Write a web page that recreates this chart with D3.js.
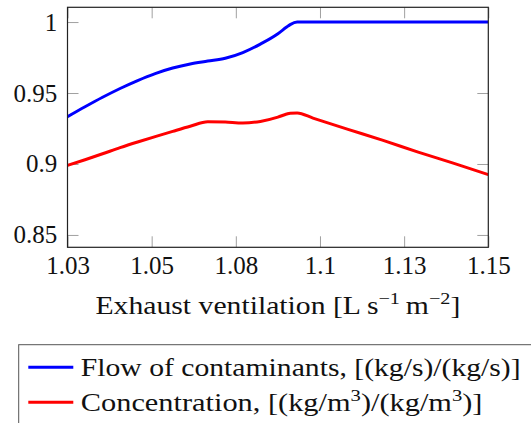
<!DOCTYPE html>
<html>
<head>
<meta charset="utf-8">
<script src="https://cdn.jsdelivr.net/npm/d3@7"></script>
</head>
<body style="margin:0">
<div id="chart"></div>
<script>
// exhaust ventilation [L s^-1 m^-2]
const xValues = [1.030, 1.035, 1.040, 1.045, 1.050, 1.055, 1.060, 1.065, 1.070, 1.075,
                 1.080, 1.085, 1.090, 1.0925, 1.0935, 1.0955, 1.100, 1.110, 1.120, 1.130, 1.140, 1.150];
// flow of contaminants, relative
const flowValues = [0.9333, 0.9403, 0.9470, 0.9532, 0.9588, 0.9637, 0.9676, 0.9705, 0.9725, 0.9745,
                    0.9785, 0.9845, 0.9918, 0.9965, 0.9982, 1.0000, 1.0000, 1.0000, 1.0000, 1.0000, 1.0000, 1.0000];
// concentration, relative
const concValues = [0.8990, 0.9030, 0.9072, 0.9115, 0.9155, 0.9193, 0.9230, 0.9266, 0.9298, 0.9295,
                    0.9288, 0.9300, 0.9330, 0.9352, 0.9358, 0.9360, 0.9323, 0.9244, 0.9166, 0.9084, 0.9006, 0.8925];

const xTicks = [1.03, 1.054, 1.078, 1.102, 1.126, 1.15];
const xTickLabels = ["1.03", "1.05", "1.08", "1.1", "1.13", "1.15"];
const yTicks = [0.85, 0.9, 0.95, 1];
const yTickLabels = ["0.85", "0.9", "0.95", "1"];

const seriesNames = ["Flow of contaminants, [(kg/s)/(kg/s)]", "Concentration, [(kg/m3)/(kg/m3)]"];
const seriesColors = ["#0000ff", "#ff0000"];

const width = 531, height = 423;
const margin = { top: 7.3, left: 67.5 };
const plotW = 420.8, plotH = 240;
const fontFamily = "Liberation Serif";
const fontSize = 25;

const svg = d3.select("#chart").append("svg")
    .attr("width", width)
    .attr("height", height)
    .style("display", "block");

const viz = svg.append("g")
    .attr("transform", `translate(${margin.left},${margin.top})`);

const xScale = d3.scaleLinear().domain([1.03, 1.15]).range([0, plotW]);
const yScale = d3.scaleLinear().domain([0.8413, 1.0104]).range([plotH, 0]);

viz.append("clipPath").attr("id", "clip")
    .append("rect").attr("width", plotW).attr("height", plotH);

// axes, ticks point inward on all four sides
const tickLen = 11;
const fmtX = (d, i) => xTickLabels[i];
const fmtY = (d, i) => yTickLabels[i];

const axisB = viz.append("g").attr("transform", `translate(0,${plotH})`)
    .call(d3.axisBottom(xScale).tickValues(xTicks).tickFormat(fmtX).tickSize(-tickLen).tickPadding(9));
const axisT = viz.append("g")
    .call(d3.axisTop(xScale).tickValues(xTicks).tickFormat("").tickSize(-tickLen));
const axisL = viz.append("g")
    .call(d3.axisLeft(yScale).tickValues(yTicks).tickFormat(fmtY).tickSize(-tickLen).tickPadding(10.2));
const axisR = viz.append("g").attr("transform", `translate(${plotW},0)`)
    .call(d3.axisRight(yScale).tickValues(yTicks).tickFormat("").tickSize(-tickLen));

[axisB, axisT, axisL, axisR].forEach(g => {
    g.attr("font-family", fontFamily).attr("font-size", fontSize);
    g.select(".domain").remove();
    g.selectAll(".tick line").attr("stroke", "#a0a0a0").attr("stroke-width", 1);
    g.selectAll(".tick text").attr("fill", "#111").attr("font-family", fontFamily);
});

// lines
const rows = xValues.map((x, i) => ({ x: x, flow: flowValues[i], conc: concValues[i] }));
const keys = ["flow", "conc"];

keys.forEach((k, i) => {
    const line = d3.line()
        .x(d => xScale(d.x))
        .y(d => yScale(d[k]))
        .curve(d3.curveMonotoneX);
    viz.append("path")
        .datum(rows)
        .attr("clip-path", "url(#clip)")
        .attr("d", line)
        .attr("fill", "none")
        .attr("stroke", seriesColors[i])
        .attr("stroke-width", 3)
        .attr("stroke-linejoin", "round");
});

// frame
viz.append("rect")
    .attr("width", plotW)
    .attr("height", plotH)
    .attr("fill", "none")
    .attr("stroke", "#222")
    .attr("stroke-width", 1.2);

// the original uses Computer Modern, which runs wider than Times;
// stretch a text horizontally so it covers the same width
function stretchTo(g, text, targetW) {
    const w = text.node().getBBox().width;
    const t = g.attr("transform");
    g.attr("transform", `${t} scale(${targetW / w},1)`);
}

function addSup(t, base, sup) {
    t.append("tspan").text(base);
    t.append("tspan").attr("dy", -10).attr("font-size", 17).text(sup);
    t.append("tspan").attr("dy", 10).text("");
}

// x axis title
const titleG = svg.append("g")
    .attr("transform", `translate(${margin.left + plotW / 2},314.3)`);
const title = titleG.append("text")
    .attr("text-anchor", "middle")
    .attr("fill", "#111")
    .attr("font-family", fontFamily)
    .attr("font-size", fontSize);
title.append("tspan").text("Exhaust ventilation [L\u2009s");
title.append("tspan").attr("dy", -10).attr("font-size", 17).text("\u22121");
title.append("tspan").attr("dy", 10).text("\u2009m");
title.append("tspan").attr("dy", -10).attr("font-size", 17).text("\u22122");
title.append("tspan").attr("dy", 10).text("]");
stretchTo(titleG, title, 365);

// legend
const legend = svg.append("g");
legend.append("rect")
    .attr("x", 18.7)
    .attr("y", 344.7)
    .attr("width", 540)
    .attr("height", 100)
    .attr("fill", "#fff")
    .attr("stroke", "#555")
    .attr("stroke-width", 1);

const legendY = [367.3, 402.3];
const legendTextW = [440, 402];
seriesNames.forEach((name, i) => {
    legend.append("line")
        .attr("x1", 28.3).attr("x2", 73.3)
        .attr("y1", legendY[i]).attr("y2", legendY[i])
        .attr("stroke", seriesColors[i])
        .attr("stroke-width", 3);
    const g = legend.append("g")
        .attr("transform", `translate(80.8,${legendY[i] + 8.6})`);
    const t = g.append("text")
        .attr("fill", "#111")
        .attr("font-family", fontFamily)
        .attr("font-size", fontSize);
    if (i === 0) {
        t.text(name);
    } else {
        t.append("tspan").text("Concentration, [(kg/m");
        t.append("tspan").attr("dy", -10).attr("font-size", 17).text("3");
        t.append("tspan").attr("dy", 10).text(")/(kg/m");
        t.append("tspan").attr("dy", -10).attr("font-size", 17).text("3");
        t.append("tspan").attr("dy", 10).text(")]");
    }
    stretchTo(g, t, legendTextW[i]);
});
</script>
</body>
</html>
